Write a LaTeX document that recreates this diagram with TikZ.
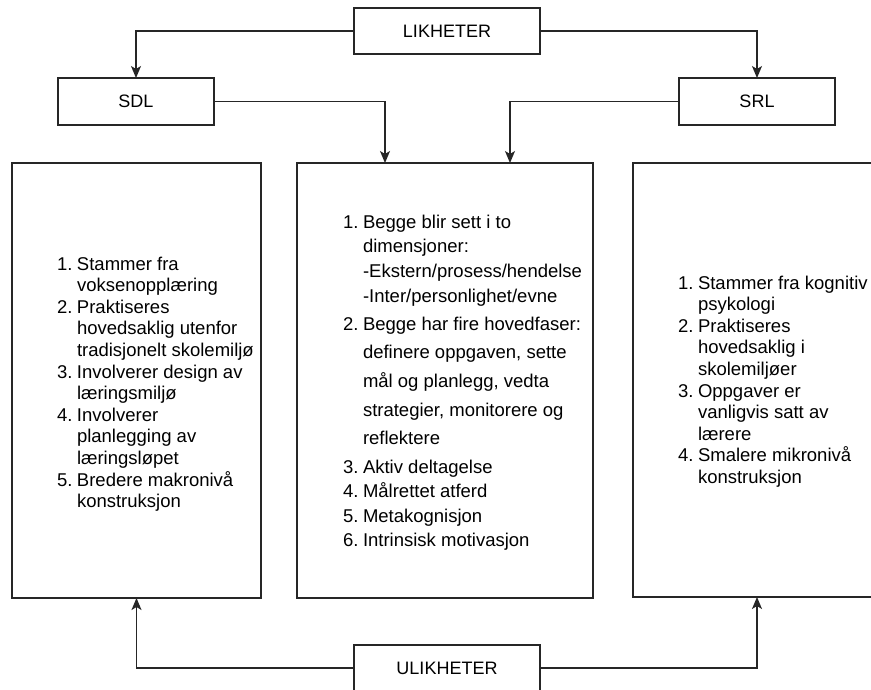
\documentclass[tikz,border=0pt]{standalone}
\usepackage{fontspec}
\setmainfont{Liberation Sans}
\usetikzlibrary{arrows.meta}
\definecolor{linec}{HTML}{262626}
\newcommand\lb[1]{\llap{\makebox[20pt][l]{#1}}}
\newcommand\fst{\rule{0pt}{14pt}}
\begin{document}
\begin{tikzpicture}[x=1pt,y=-1pt,
  box/.style={draw=linec, line width=1.3pt, inner sep=0pt, outer sep=0pt, fill=white},
  lbl/.style={font=\fontsize{18}{21}\selectfont, text=black},
  txt/.style={anchor=north west, inner sep=0pt, outer sep=0pt, align=left, text=black},
  arr/.style={draw=linec, line width=1.3pt, -{Stealth[length=12pt,width=10pt,inset=3pt]}}]
\useasboundingbox (0,0) rectangle (871,689);
\clip (0,0) rectangle (871,689);
\fill[white] (0,0) rectangle (871,689);

% top and mid boxes
\node[box, lbl, minimum width=186pt, minimum height=46pt] (lik) at (447,31) {LIKHETER};
\node[box, lbl, minimum width=156pt, minimum height=47pt] (sdl) at (136,101.5) {SDL};
\node[box, lbl, minimum width=156pt, minimum height=47pt] (srl) at (757,101.5) {SRL};

% big boxes
\node[box, minimum width=249pt, minimum height=435pt] (lb) at (136.5,380.5) {};
\node[box, minimum width=296pt, minimum height=435pt] (mb) at (445,380.5) {};
\node[box, minimum width=277pt, minimum height=434pt] (rb) at (771.5,380) {};

% bottom box
\node[box, lbl, minimum width=186pt, minimum height=46pt] (ulik) at (447,668) {ULIKHETER};

% texts
\node[txt, font=\fontsize{18.5}{21.6}\selectfont] (lt) at (77,256) {%
\fst\lb{1.}Stammer fra\\
voksenopplæring\\
\lb{2.}Praktiseres\\
hovedsaklig utenfor\\
tradisjonelt skolemiljø\\
\lb{3.}Involverer design av\\
læringsmiljø\\
\lb{4.}Involverer\\
planlegging av\\
læringsløpet\\
\lb{5.}Bredere makronivå\\
konstruksjon};

\node[txt, font=\fontsize{18.5}{24.6}\selectfont] (mt) at (363,214.3) {%
\fst\lb{1.}Begge blir sett i to\\
dimensjoner:\\
-Ekstern/prosess/hendelse\\
-Inter/personlighet/evne\\[3.5pt]
\lb{2.}Begge har fire hovedfaser:\\[4pt]
definere oppgaven, sette\\[4pt]
mål og planlegg, vedta\\[4pt]
strategier, monitorere og\\[4pt]
reflektere\\[3.8pt]
\lb{3.}Aktiv deltagelse\\
\lb{4.}Målrettet atferd\\
\lb{5.}Metakognisjon\\
\lb{6.}Intrinsisk motivasjon};

\node[txt, font=\fontsize{18.5}{21.6}\selectfont] (rt) at (698,275) {%
\fst\lb{1.}Stammer fra kognitiv\\
psykologi\\
\lb{2.}Praktiseres\\
hovedsaklig i\\
skolemiljøer\\
\lb{3.}Oppgaver er\\
vanligvis satt av\\
lærere\\
\lb{4.}Smalere mikronivå\\
konstruksjon};

% connector targets on the middle box
\coordinate (min1) at ([xshift=-60pt]mb.north);
\coordinate (min2) at ([xshift=65pt]mb.north);

% connectors
\draw[arr] (lik.west) -| (sdl.north);
\draw[arr] (lik.east) -| (srl.north);
\draw[arr] (sdl.east) -| (min1);
\draw[arr] (srl.west) -| (min2);
\draw[arr] (ulik.west) -| (lb.south);
\draw[arr] (ulik.east) -| (rb.south -| srl.south);
\end{tikzpicture}
\end{document}
